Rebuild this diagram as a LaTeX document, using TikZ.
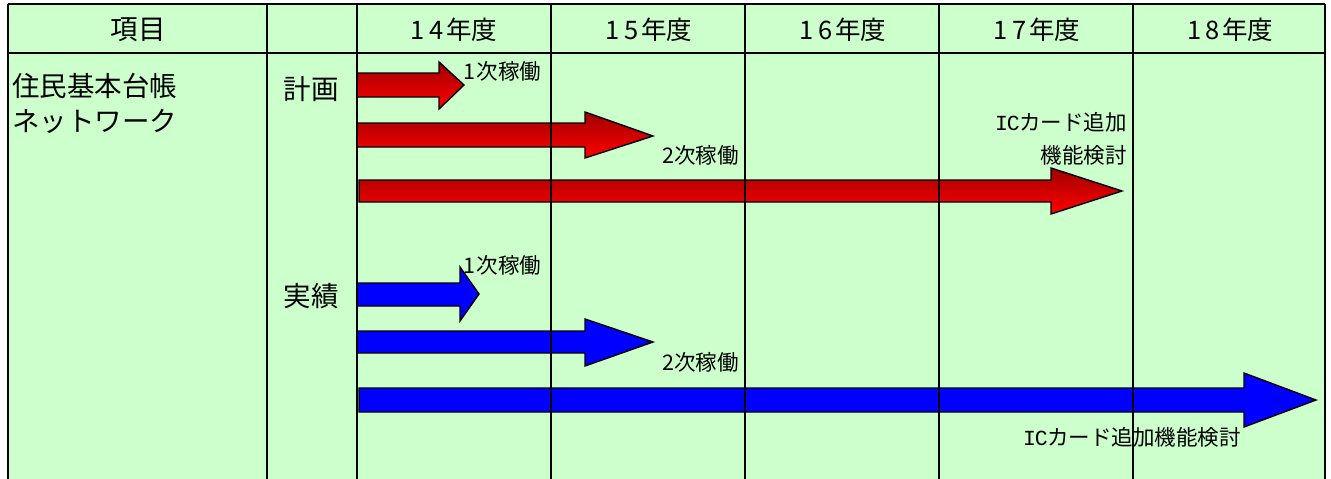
\documentclass[tikz,border=0pt]{standalone}
\usepackage{fontspec}
\newfontfamily\jp{Noto Sans CJK JP}
\newfontfamily\monofam{Liberation Mono}
\definecolor{bg}{HTML}{CCFFCC}
\definecolor{darkred}{HTML}{A00000}
\newcommand{\hw}[1]{\makebox[0.5em]{#1}}
\newcommand{\hwm}[1]{\makebox[0.55em]{\monofam #1}}
\newcommand{\yw}[1]{\makebox[0.74em]{#1}}
\begin{document}
\begin{tikzpicture}[x=1pt,y=-1pt,
  grid/.style={line width=2.6pt,black},
  bigtxt/.style={font=\jp\fontsize{27.5}{32}\selectfont,inner sep=0pt},
  yeartxt/.style={font=\jp\fontsize{25.5}{30}\selectfont,inner sep=0pt},
  smalltxt/.style={font=\jp\fontsize{21.5}{25}\selectfont,inner sep=0pt},
  redarrow/.style={draw=black,line width=1.4pt,line join=miter,top color=darkred,middle color=red,bottom color=red},
  bluearrow/.style={draw=black,line width=1.4pt,line join=miter,fill=blue}]
\useasboundingbox (0,0) rectangle (1331,479);
\fill[white] (0,0) rectangle (1331,479);
\fill[bg] (8,4) rectangle (1325,479);
% arrows
\draw[redarrow] (357,73) -- (439,73) -- (439,62) -- (464,85) -- (439,109) -- (439,97) -- (357,97) -- cycle;
\draw[redarrow] (357,123) -- (585,123) -- (585,112) -- (653,136) -- (585,158) -- (585,147) -- (357,147) -- cycle;
\draw[redarrow] (359,180) -- (1051,180) -- (1051,168) -- (1122,191) -- (1051,214) -- (1051,202) -- (359,202) -- cycle;
\draw[bluearrow] (357,283) -- (460,283) -- (460,267) -- (479,294) -- (460,321) -- (460,306) -- (357,306) -- cycle;
\draw[bluearrow] (357,331) -- (585,331) -- (585,319) -- (653,342) -- (585,366) -- (585,353) -- (357,353) -- cycle;
\draw[bluearrow] (359,388) -- (1244,388) -- (1244,373) -- (1316,400) -- (1244,427) -- (1244,412) -- (359,412) -- cycle;
% grid
\draw[grid] (8,4) -- (1325,4);
\draw[grid] (8,53) -- (1325,53);
\foreach \x in {8,267,357,551,745,939,1133,1325}
  \draw[grid] (\x,4) -- (\x,479);
% header
\node[bigtxt] (hitem) at (138,30) {項目};
\node[yeartxt] (h14) at (453,30) {\yw{1}\yw{4}年度};
\node[yeartxt] (h15) at (648,30) {\yw{1}\yw{5}年度};
\node[yeartxt] (h16) at (842,30) {\yw{1}\yw{6}年度};
\node[yeartxt] (h17) at (1036,30) {\yw{1}\yw{7}年度};
\node[yeartxt] (h18) at (1229,30) {\yw{1}\yw{8}年度};
% left column
\node[bigtxt,anchor=west] (name1) at (12,86) {住民基本台帳};
\node[bigtxt,anchor=west] (name2) at (12,121) {ネットワーク};
\node[bigtxt] (plan) at (311,89) {計画};
\node[bigtxt] (actual) at (311,296) {実績};
% labels
\node[smalltxt,anchor=west] (p1) at (463,71) {\makebox[0.62em]{1}次稼働};
\node[smalltxt,anchor=east] (p2) at (739,155) {2次稼働};
\node[smalltxt,anchor=east] (p3a) at (1127,122) {\hwm{I}\hwm{C}カード追加};
\node[smalltxt,anchor=east] (p3b) at (1127,155) {機能検討};
\node[smalltxt,anchor=west] (a1) at (463,265) {\makebox[0.62em]{1}次稼働};
\node[smalltxt,anchor=east] (a2) at (739,362) {2次稼働};
\node[smalltxt,anchor=east] (a3) at (1241,437) {\hwm{I}\hwm{C}カード追加機能検討};
\end{tikzpicture}
\end{document}
